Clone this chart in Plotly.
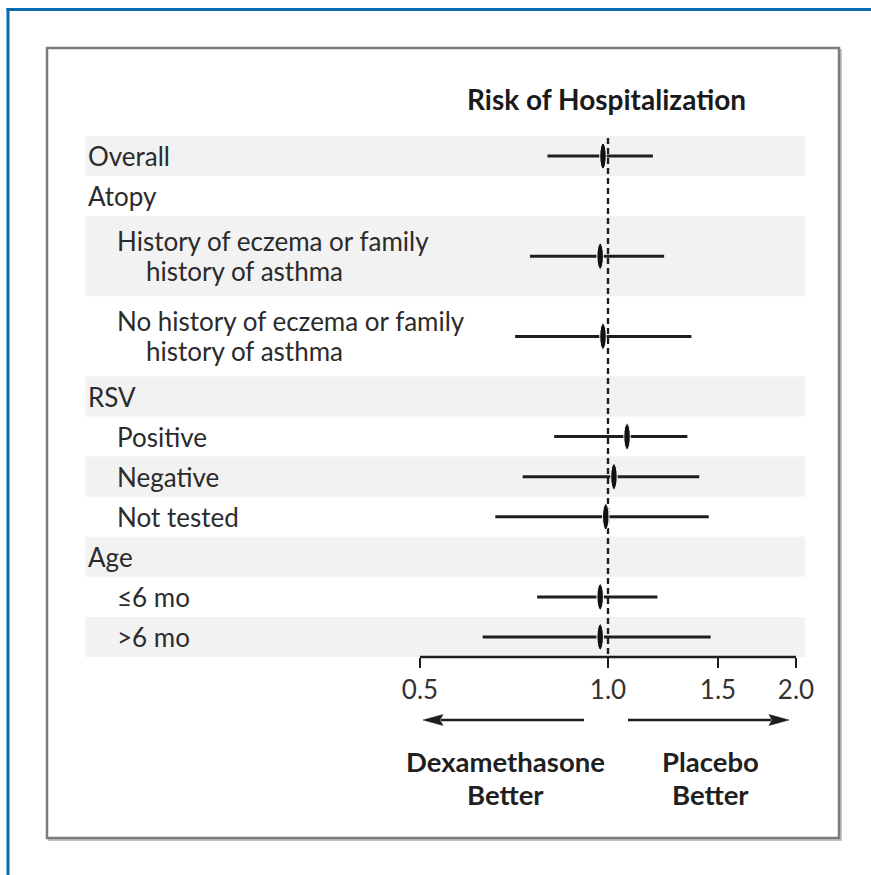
import math
import plotly.graph_objects as go

# ---------------- data ----------------
row_labels = [
    ["Overall"],
    ["Atopy"],
    ["History of eczema or family", "history of asthma"],
    ["No history of eczema or family", "history of asthma"],
    ["RSV"],
    ["Positive"],
    ["Negative"],
    ["Not tested"],
    ["Age"],
    ["≤6 mo"],
    [">6 mo"],
]
row_indent = [0, 0, 1, 1, 0, 1, 1, 1, 0, 1, 1]
point_est = [0.97, None, 0.96, 0.97, None, 1.06, 1.01, 0.98, None, 0.96, 0.96]
ci_low = [0.80, None, 0.75, 0.71, None, 0.82, 0.73, 0.66, None, 0.77, 0.63]
ci_high = [1.18, None, 1.23, 1.36, None, 1.34, 1.40, 1.45, None, 1.20, 1.46]
tick_vals = [0.5, 1.0, 1.5, 2.0]
tick_text = ["0.5", "1.0", "1.5", "2.0"]
ref_value = 1.0
title_text = "Risk of Hospitalization"
left_label = ["Dexamethasone", "Better"]
right_label = ["Placebo", "Better"]

# ---------------- layout geometry ----------------
W, H = 871, 875
PL, PR, PT, PB = 85, 805, 136, 657          # plot area in pixels
X_LO_PX, X_HI_PX = 420, 796                 # pixel positions of 0.5 and 2.0
ppu = (X_HI_PX - X_LO_PX) / (math.log10(tick_vals[-1]) - math.log10(tick_vals[0]))
xmin = math.log10(tick_vals[0]) - (X_LO_PX - PL) / ppu
xmax = math.log10(tick_vals[-1]) + (PR - X_HI_PX) / ppu


def px_x(p):
    return (p - PL) / (PR - PL)


def px_y(p):
    return (PB - p) / (PB - PT)


units = [len(l) for l in row_labels]
total_units = sum(units)
starts, centers = [], []
acc = 0
for u in units:
    starts.append(acc)
    centers.append(acc + u / 2)
    acc += u

FONT = "Lato, 'Open Sans', 'DejaVu Sans', sans-serif"
DARK = "#1e1e1e"
TEXT = "#2b2b2b"

fig = go.Figure()

shapes = []
annotations = []

# outer blue frame
shapes.append(dict(type="line", xref="paper", yref="paper",
                   x0=px_x(6.5), x1=px_x(W + 5), y0=px_y(9.5), y1=px_y(9.5),
                   line=dict(color="#0a6cb0", width=3)))
shapes.append(dict(type="line", xref="paper", yref="paper",
                   x0=px_x(8), x1=px_x(8), y0=px_y(8), y1=px_y(H + 5),
                   line=dict(color="#0a6cb0", width=3)))

# inner box with soft shadow
shapes.append(dict(type="rect", xref="paper", yref="paper", layer="below",
                   x0=px_x(49), x1=px_x(841), y0=px_y(50), y1=px_y(840),
                   line=dict(color="#c4c4c4", width=2)))
shapes.append(dict(type="rect", xref="paper", yref="paper", layer="below",
                   x0=px_x(47), x1=px_x(839), y0=px_y(48), y1=px_y(838),
                   line=dict(color="#7c7c7c", width=2.5), fillcolor="white"))

# alternating row bands
for i, (s, u) in enumerate(zip(starts, units)):
    if i % 2 == 0:
        shapes.append(dict(type="rect", xref="paper", yref="y", layer="below",
                           x0=0, x1=1, y0=s, y1=s + u,
                           fillcolor="#f2f2f2", line=dict(width=0)))

# reference dashed line
shapes.append(dict(type="line", xref="x", yref="y",
                   x0=ref_value, x1=ref_value,
                   y0=0.05, y1=total_units + 0.02,
                   line=dict(color=DARK, width=2.4, dash="6px,4px")))

# axis line from first to last tick
shapes.append(dict(type="line", xref="x", yref="paper",
                   x0=tick_vals[0], x1=tick_vals[-1],
                   y0=0, y1=0, line=dict(color=DARK, width=2.5)))

# CI lines
cx, cy = [], []
for c, lo, hi in zip(centers, ci_low, ci_high):
    if lo is None:
        continue
    cx += [lo, hi, None]
    cy += [c, c, None]
fig.add_trace(go.Scatter(x=cx, y=cy, mode="lines",
                         line=dict(color=DARK, width=3),
                         hoverinfo="skip", showlegend=False))

# point estimates as vertical ellipses
for c, p in zip(centers, point_est):
    if p is None:
        continue
    shapes.append(dict(type="circle", xref="x", yref="y",
                       xsizemode="pixel", ysizemode="pixel",
                       xanchor=p, yanchor=c,
                       x0=-6.5, x1=6.5, y0=-13, y1=13,
                       fillcolor="#111111", line=dict(color="white", width=1)))

# row labels
indent_px = [87, 116]
cont_px = 145
for lines, c, ind in zip(row_labels, centers, row_indent):
    n = len(lines)
    for j, t in enumerate(lines):
        off = (j - (n - 1) / 2) * 0.75
        xp = indent_px[ind] if j == 0 else cont_px
        annotations.append(dict(text=t, xref="paper", yref="y",
                                x=px_x(xp - 1), y=c + off,
                                xanchor="left", yanchor="middle", showarrow=False,
                                font=dict(family=FONT, size=26, color=TEXT)))

# title
annotations.append(dict(text="<b>" + title_text + "</b>", xref="paper", yref="paper",
                        x=px_x(606), y=px_y(99), xanchor="center", yanchor="middle",
                        showarrow=False, font=dict(family=FONT, size=28, color="#1a1a1a")))

# direction arrows
ARROW_Y = 720
for x_tail, x_tip in [(584, 423), (628, 789)]:
    d = 1 if x_tip > x_tail else -1
    base = x_tip - d * 20
    shapes.append(dict(type="line", xref="paper", yref="paper",
                       x0=px_x(x_tail), x1=px_x(base + d * 2), y0=px_y(ARROW_Y), y1=px_y(ARROW_Y),
                       line=dict(color=DARK, width=2.5)))
    path = "M {},{} L {},{} L {},{} L {},{} Z".format(
        px_x(x_tip), px_y(ARROW_Y),
        px_x(base), px_y(ARROW_Y - 5.5),
        px_x(base + d * 3), px_y(ARROW_Y),
        px_x(base), px_y(ARROW_Y + 5.5))
    shapes.append(dict(type="path", xref="paper", yref="paper", path=path,
                       fillcolor=DARK, line=dict(color=DARK, width=0.5)))

# direction labels
for lines, cxp in [(left_label, 505), (right_label, 710)]:
    for j, t in enumerate(lines):
        annotations.append(dict(text="<b>" + t + "</b>", xref="paper", yref="paper",
                                x=px_x(cxp), y=px_y(761 + 33 * j),
                                xanchor="center", yanchor="middle", showarrow=False,
                                font=dict(family=FONT, size=27.5, color="#1f1f1f")))

fig.update_layout(
    width=W, height=H,
    margin=dict(l=PL, r=W - PR, t=PT, b=H - PB, pad=0),
    paper_bgcolor="white", plot_bgcolor="rgba(0,0,0,0)",
    shapes=shapes, annotations=annotations,
    showlegend=False,
    xaxis=dict(type="log", range=[xmin, xmax],
               tickvals=tick_vals, ticktext=tick_text,
               ticks="outside", ticklen=10, tickwidth=2, tickcolor=DARK,
               showline=False, showgrid=False, zeroline=False,
               tickfont=dict(family=FONT, size=26, color="#333333"),
               fixedrange=True),
    yaxis=dict(range=[total_units, 0], visible=False, showgrid=False,
               zeroline=False, fixedrange=True),
)

fig.write_html("out.html", config={"displayModeBar": False},
               post_script="document.body.style.margin='0';")
